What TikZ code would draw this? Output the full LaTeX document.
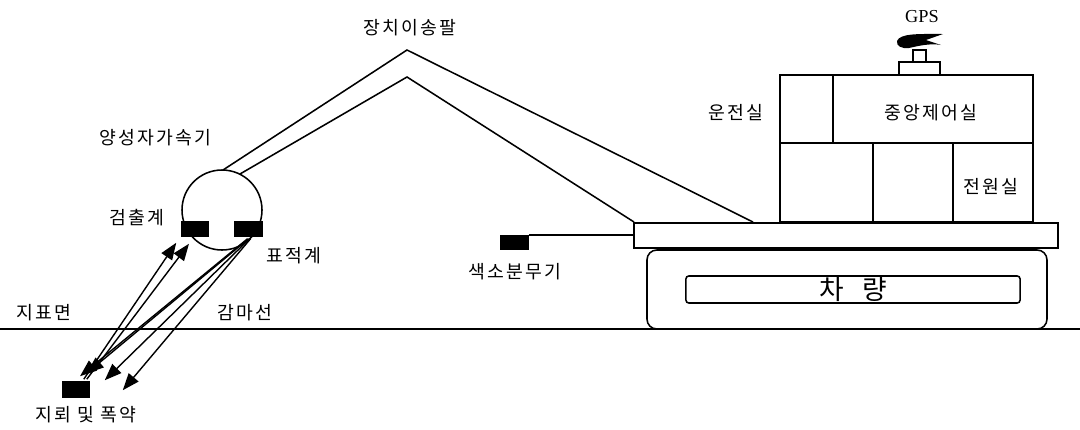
\documentclass[tikz,border=0pt]{standalone}
\usepackage{fontspec}
\setmainfont{Noto Sans CJK KR}[LetterSpace=12]
\newfontfamily\gpsfont{Liberation Serif}
\usetikzlibrary{arrows.meta}

\begin{document}
\begin{tikzpicture}[x=0.025cm,y=-0.025cm,line width=1.1pt,
  lbl/.style={font=\fontsize{13}{15}\selectfont, inner sep=0pt},
  sensor/.style={draw, fill=black, inner sep=0pt, minimum width=0.65cm, minimum height=0.35cm},
  ray/.style={-{Triangle[length=12pt,width=9pt]}, line width=1pt}]
\useasboundingbox (0,0) rectangle (1080,429);

% ground
\draw (0,329) -- (1080,329);

% arm
\draw (223,170) -- (407,50) -- (753,222);
\draw (240,174) -- (407,77) -- (634,222);

% head
\draw[fill=white] (222,210) circle[radius=40];
\node[sensor] (det) at (195,229) {};
\node[sensor, minimum width=0.675cm] (tgt) at (248.5,229) {};
\node[sensor, minimum height=0.375cm] (mine) at (76,389.5) {};

% vehicle
\node[draw, fill=white, inner sep=0pt, minimum width=10.6cm, minimum height=0.625cm] (deck) at (846,235.5) {};
\draw[rounded corners=7pt] (647,250) rectangle (1047,329);
\node[draw, rounded corners=2pt, inner sep=0pt, minimum width=8.35cm, minimum height=0.675cm,
  font=\fontsize{19}{21}\selectfont] (car) at (853,289.5) {차\hspace{0.7em}량};

\draw (780,75) rectangle (1033,222);
\draw (780,143) -- (1033,143);
\draw (833,75) -- (833,143);
\draw (873,143) -- (873,222);
\draw (953,143) -- (953,222);

% antenna
\draw (899,75) rectangle (940,62);
\draw (913,62) rectangle (926,50);
\fill (943,34) .. controls (920,34) and (900,33) .. (897,41)
  .. controls (896,46) and (902,49) .. (909,48)
  .. controls (918,46) and (930,43) .. (941,45) -- (926,40) -- cycle;

% sprayer
\node[sensor, minimum width=0.675cm, minimum height=0.325cm] (spray) at (514.5,242.5) {};
\draw (spray.north east) -- (spray.north east -| deck.west);

% rays
\draw[ray] ([shift={(-6,-2)}]mine.north east) -- ([shift={(-5,6)}]det.south west);
\draw[ray] ([shift={(-3,-2)}]mine.north east) -- ([shift={(-6,7)}]det.south);
\draw[ray] ([shift={(-1,2)}]tgt.south) -- ([shift={(4,-5)}]mine.north);
\draw[ray] ([shift={(0,2)}]tgt.south) -- ([shift={(-3,-8)}]mine.north east);
\draw[ray] ([shift={(1,2)}]tgt.south) -- ([shift={(15,-1)}]mine.north east);
\draw[ray] ([shift={(2,2)}]tgt.south) -- ([shift={(33,9)}]mine.north east);

% labels
\node[lbl] (armlbl) at (410,28) {장치이송팔};
\node[lbl] (acclbl) at (155,138) {양성자가속기};
\node[lbl] (detlbl) at (137,218) {검출계};
\node[lbl] (tgtlbl) at (294,256) {표적계};
\node[lbl] (gndlbl) at (44,313) {지표면};
\node[lbl] (gamlbl) at (245,313) {감마선};
\node[lbl] (minelbl) at (86,415) {지뢰 및 폭약};
\node[lbl] (spraylbl) at (515,272) {색소분무기};
\node[lbl] (drvlbl) at (736,113) {운전실};
\node[lbl] (ctllbl) at (931,113) {중앙제어실};
\node[lbl] (pwrlbl) at (991,187) {전원실};
\node[inner sep=0pt, font=\gpsfont\fontsize{13}{15}\selectfont] (gpslbl) at (922,17) {GPS};
\end{tikzpicture}
\end{document}
